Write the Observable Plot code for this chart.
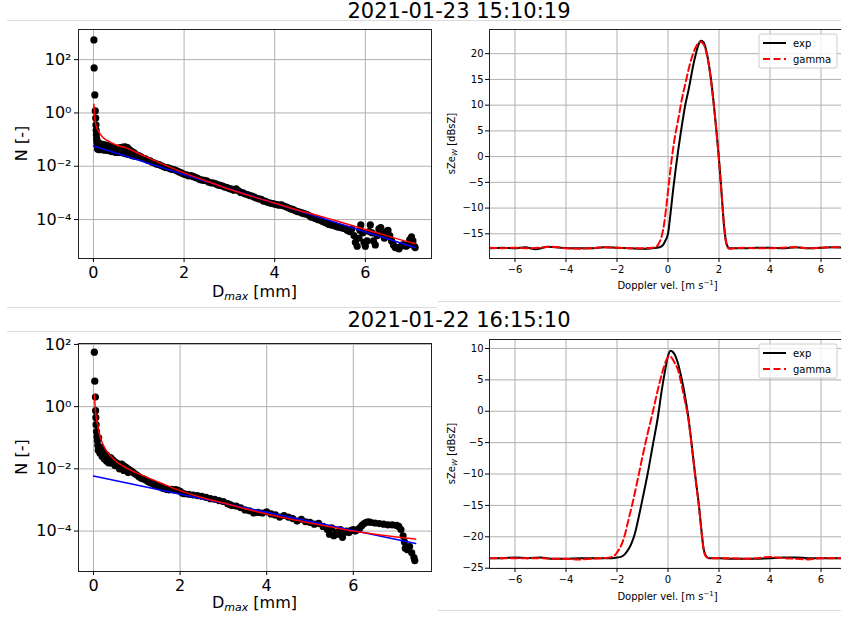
<!DOCTYPE html>
<html><head><meta charset="utf-8">
<script src="https://cdn.jsdelivr.net/npm/d3@7"></script>
<script src="https://cdn.jsdelivr.net/npm/@observablehq/plot@0.6"></script>
<style>
html,body{margin:0;padding:0;background:#fff;}
#page{position:relative;width:841px;height:617px;overflow:hidden;font-family:"DejaVu Sans",sans-serif;}
.panel{position:absolute;}
.panel svg{max-width:none !important;}
#bg{position:absolute;left:0;top:0;}
</style></head>
<body><div id="page"></div>
<script>
// ---------- titles ----------
const titles = ["2021-01-23 15:10:19", "2021-01-22 16:15:10"];

// ---------- top-left: scatter [Dmax mm, log10 N] ----------
const tlScatter = [
[0.01,2.74],[0.015,1.69],[0.03,0.675],[0.04,0.075],[0.05,-0.19],[0.055,-0.45],[0.06,-0.65],[0.065,-0.8],[0.07,-0.95],[0.075,-1.05],
[0.08,-1.15],[0.09,-1.35],[0.1,-1.2],[0.12,-1.38],[0.12,-1.12],[0.15,-1.38],[0.15,-1.18],[0.2,-1.18],[0.2,-1.38],[0.25,-1.2],
[0.25,-1.4],[0.3,-1.22],[0.3,-1.4],[0.35,-1.25],[0.35,-1.42],[0.4,-1.28],[0.4,-1.45],[0.45,-1.3],[0.45,-1.46],[0.5,-1.33],[0.5,-1.48],
[0.55,-1.32],[0.55,-1.48],[0.6,-1.3],[0.6,-1.48],[0.65,-1.28],[0.65,-1.5],[0.7,-1.27],[0.7,-1.52],[0.75,-1.3],[0.75,-1.55],
[0.8,-1.38],[0.8,-1.56],[0.85,-1.45],[0.85,-1.6],[0.9,-1.5],[0.9,-1.62],[0.95,-1.57],[1.0,-1.6],[1.05,-1.65],[1.1,-1.7],
[1.15,-1.72],[1.2,-1.78],[1.25,-1.8],[1.3,-1.85],[1.35,-1.88],[1.4,-1.92],[1.45,-1.94],[1.5,-1.98],[1.55,-2.02],[1.6,-2.05],
[1.65,-2.06],[1.7,-2.1],[1.75,-2.12],[1.8,-2.14],[1.85,-2.18],[1.9,-2.22],[1.95,-2.26],[2.0,-2.3],[2.05,-2.32],[2.1,-2.36],
[2.15,-2.35],[2.2,-2.38],[2.25,-2.42],[2.3,-2.45],[2.35,-2.5],[2.4,-2.52],[2.45,-2.53],[2.5,-2.55],[2.55,-2.6],[2.6,-2.62],
[2.65,-2.63],[2.7,-2.66],[2.75,-2.7],[2.8,-2.72],[2.85,-2.74],[2.9,-2.78],[2.95,-2.8],[3.0,-2.84],[3.05,-2.86],[3.1,-2.9],
[3.15,-2.85],[3.2,-2.92],[3.25,-2.98],[3.3,-3.0],[3.35,-3.04],[3.4,-3.06],[3.45,-3.1],[3.5,-3.12],[3.55,-3.16],[3.6,-3.2],
[3.65,-3.22],[3.7,-3.24],[3.75,-3.3],[3.8,-3.32],[3.85,-3.36],[3.9,-3.38],[3.95,-3.4],[4.0,-3.42],[4.05,-3.44],[4.1,-3.46],
[4.15,-3.45],[4.2,-3.49],[4.25,-3.52],[4.3,-3.56],[4.35,-3.6],[4.4,-3.62],[4.45,-3.66],[4.5,-3.7],[4.55,-3.72],[4.6,-3.75],
[4.65,-3.78],[4.7,-3.8],[4.75,-3.84],[4.8,-3.9],[4.85,-3.93],[4.9,-3.96],[4.95,-4.0],[5.0,-4.02],[5.05,-4.06],[5.1,-4.1],
[5.15,-4.14],[5.2,-4.18],[5.25,-4.2],[5.3,-4.22],[5.35,-4.26],[5.4,-4.28],[5.45,-4.3],[5.5,-4.32],[5.55,-4.34],[5.6,-4.4],
[5.65,-4.45],[5.7,-4.35],[5.75,-4.6],[5.78,-4.85],[5.82,-5.0],[5.86,-4.7],[5.88,-4.4],[5.9,-4.2],[5.94,-4.5],[5.97,-4.85],
[6.0,-5.0],[6.04,-4.8],[6.08,-4.45],[6.11,-4.2],[6.15,-4.5],[6.18,-4.8],[6.22,-4.95],[6.26,-4.6],[6.3,-4.35],[6.34,-4.3],
[6.38,-4.55],[6.42,-4.7],[6.46,-4.45],[6.5,-4.4],[6.54,-4.6],[6.58,-4.8],[6.62,-4.95],[6.66,-5.05],[6.7,-5.05],[6.74,-5.1],
[6.78,-5.0],[6.82,-4.95],[6.86,-4.95],[6.9,-5.0],[6.94,-4.95],[6.98,-4.75],[7.02,-4.65],[7.05,-4.8],[7.08,-5.0],[7.1,-5.05]
];
const tlRed = [[0.01,0.33],[0.03,-0.2],[0.05,-0.42],[0.08,-0.58],[0.12,-0.72],[0.2,-0.9],[0.3,-1.03],[0.5,-1.2],[0.75,-1.33],
[1.0,-1.52],[1.5,-1.9],[2.0,-2.25],[2.5,-2.56],[3.0,-2.86],[3.5,-3.13],[4.0,-3.38],[4.5,-3.64],[5.0,-3.87],[5.5,-4.12],
[6.0,-4.37],[6.5,-4.62],[7.1,-4.9]];
const tlBlue = [[0,-1.24],[7.1,-5.05]];

// ---------- bottom-left ----------
const blScatter = [
[0.02,1.75],[0.03,0.82],[0.045,0.31],[0.05,-0.13],[0.055,-0.35],[0.06,-0.58],[0.07,-0.8],[0.08,-0.96],[0.09,-1.1],[0.1,-1.25],
[0.11,-1.4],[0.12,-1.0],[0.15,-1.3],[0.15,-1.5],[0.2,-1.4],[0.2,-1.6],[0.25,-1.5],[0.25,-1.68],[0.3,-1.55],[0.3,-1.75],
[0.35,-1.62],[0.35,-1.8],[0.4,-1.65],[0.4,-1.82],[0.45,-1.72],[0.5,-1.78],[0.5,-1.9],[0.55,-1.82],[0.6,-1.86],[0.6,-2.0],
[0.65,-1.85],[0.7,-1.9],[0.7,-2.05],[0.75,-1.95],[0.8,-2.0],[0.8,-2.12],[0.85,-2.05],[0.9,-2.1],[0.95,-2.15],[1.0,-2.2],
[1.05,-2.25],[1.1,-2.3],[1.15,-2.32],[1.2,-2.35],[1.25,-2.4],[1.3,-2.44],[1.35,-2.47],[1.4,-2.5],[1.45,-2.52],[1.5,-2.56],
[1.55,-2.58],[1.6,-2.62],[1.65,-2.64],[1.7,-2.66],[1.75,-2.68],[1.8,-2.66],[1.85,-2.68],[1.9,-2.67],[1.95,-2.69],[2.0,-2.72],
[2.05,-2.78],[2.1,-2.8],[2.2,-2.82],[2.3,-2.84],[2.4,-2.86],[2.5,-2.88],[2.6,-2.92],[2.7,-2.96],[2.8,-2.98],[2.9,-3.02],
[3.0,-3.05],[3.1,-3.12],[3.15,-3.15],[3.2,-3.18],[3.3,-3.2],[3.4,-3.25],[3.5,-3.32],[3.6,-3.35],[3.7,-3.42],[3.8,-3.4],
[3.9,-3.42],[4.0,-3.38],[4.1,-3.45],[4.2,-3.48],[4.3,-3.55],[4.4,-3.5],[4.5,-3.55],[4.6,-3.6],[4.7,-3.68],[4.8,-3.62],
[4.9,-3.7],[5.0,-3.72],[5.1,-3.78],[5.2,-3.75],[5.3,-3.85],[5.4,-3.95],[5.45,-4.1],[5.5,-3.9],[5.55,-4.15],[5.6,-4.05],
[5.65,-4.1],[5.7,-3.95],[5.75,-4.2],[5.8,-4.05],[5.85,-4.0],[5.9,-4.05],[5.95,-3.98],[6.0,-3.95],[6.05,-4.0],[6.1,-3.95],
[6.15,-3.9],[6.2,-3.82],[6.25,-3.76],[6.3,-3.72],[6.35,-3.7],[6.4,-3.72],[6.5,-3.74],[6.6,-3.76],[6.7,-3.78],[6.8,-3.8],
[6.9,-3.8],[7.0,-3.82],[7.05,-3.85],[7.1,-3.95],[7.15,-4.15],[7.18,-4.35],[7.2,-4.55],[7.25,-4.6],[7.3,-4.5],[7.35,-4.7],
[7.4,-4.85],[7.42,-4.95]
];
const blRed = [[0.02,0.39],[0.05,-0.2],[0.1,-0.62],[0.15,-0.95],[0.2,-1.15],[0.3,-1.42],[0.5,-1.73],[0.8,-2.0],[1.2,-2.25],
[1.6,-2.48],[2.0,-2.7],[2.5,-2.92],[3.0,-3.1],[3.5,-3.28],[4.0,-3.45],[4.5,-3.6],[5.0,-3.74],[5.5,-3.87],[6.0,-4.0],
[6.5,-4.1],[7.0,-4.19],[7.44,-4.26]];
const blBlue = [[0,-2.23],[7.44,-4.4]];

// ---------- top-right: Doppler spectra [vel, dBsZ] ----------
const trExp = [[-7,-17.8],[-6.5,-17.7],[-6,-17.8],[-5.6,-17.6],[-5.2,-18.0],[-4.7,-17.5],[-4.2,-17.7],[-3.5,-17.8],[-3,-17.8],
[-2.5,-17.6],[-2,-17.7],[-1.5,-17.8],[-1,-17.9],[-0.6,-17.8],[-0.33,-17.6],[-0.2,-17.2],[-0.1,-16.3],[0,-15.0],[0.1,-11.0],
[0.2,-6.5],[0.3,-2.5],[0.4,1.2],[0.5,4.6],[0.6,7.8],[0.7,10.6],[0.8,12.8],[0.9,15.4],[1.0,18.0],[1.1,20.1],[1.2,21.8],
[1.3,22.5],[1.4,22.2],[1.5,20.6],[1.6,18.0],[1.7,14.5],[1.8,10.0],[1.9,5.0],[2.0,-0.5],[2.1,-7.0],[2.2,-13.5],[2.3,-17.0],
[2.4,-17.8],[2.6,-17.8],[3,-17.8],[3.5,-17.7],[4,-17.7],[4.5,-17.8],[5,-17.6],[5.5,-17.8],[6,-17.7],[6.5,-17.6],[7,-17.7]];
const trGamma = [[-7,-17.7],[-6.5,-17.8],[-6,-17.7],[-5.5,-17.8],[-5,-17.7],[-4.6,-17.5],[-4,-17.8],[-3.5,-17.9],[-3,-17.8],
[-2.5,-17.6],[-2,-17.7],[-1.5,-17.8],[-1,-17.8],[-0.6,-17.7],[-0.46,-17.5],[-0.35,-16.8],[-0.25,-15.5],[-0.15,-13.0],
[-0.05,-9.0],[0.05,-4.5],[0.15,-0.3],[0.25,3.2],[0.4,7.2],[0.55,11.3],[0.7,14.6],[0.85,17.8],[1.0,20.2],[1.15,21.8],
[1.27,22.3],[1.4,21.8],[1.5,20.3],[1.6,17.8],[1.7,14.2],[1.8,9.8],[1.9,4.8],[2.0,-0.8],[2.1,-7.2],[2.2,-13.6],[2.3,-17.2],
[2.4,-17.9],[2.6,-17.8],[3,-17.7],[3.5,-17.8],[4,-17.8],[4.5,-17.7],[5,-17.6],[5.5,-17.8],[6,-17.7],[6.5,-17.6],[7,-17.7]];

// ---------- bottom-right ----------
const brExp = [[-7,-23.4],[-6.5,-23.4],[-6,-23.3],[-5.5,-23.4],[-5,-23.3],[-4.5,-23.5],[-4,-23.5],[-3.5,-23.4],[-3,-23.4],
[-2.5,-23.4],[-2.2,-23.4],[-2.0,-23.3],[-1.85,-23.2],[-1.7,-22.8],[-1.55,-22.0],[-1.45,-21.2],[-1.3,-19.5],[-1.2,-17.8],
[-1.0,-14.0],[-0.8,-10.0],[-0.6,-5.5],[-0.4,-1.0],[-0.25,3.2],[-0.1,6.8],[0.0,8.8],[0.1,9.65],[0.2,9.4],[0.3,8.7],[0.4,7.5],
[0.5,5.8],[0.6,3.9],[0.7,1.6],[0.8,-1.0],[0.9,-4.3],[1.0,-7.8],[1.1,-11.3],[1.2,-14.5],[1.3,-18.5],[1.4,-22.0],[1.5,-23.1],
[1.6,-23.4],[2,-23.4],[2.5,-23.5],[3,-23.5],[3.5,-23.5],[4,-23.4],[4.5,-23.3],[5,-23.3],[5.5,-23.4],[6,-23.4],[6.5,-23.4],[7,-23.4]];
const brGamma = [[-7,-23.4],[-6,-23.4],[-5,-23.4],[-4.5,-23.5],[-4,-23.5],[-3.5,-23.6],[-3,-23.5],[-2.5,-23.4],[-2.2,-23.2],
[-2.1,-23.0],[-2.0,-22.5],[-1.85,-21.5],[-1.7,-19.8],[-1.58,-17.8],[-1.4,-14.8],[-1.19,-10.9],[-1.0,-7.2],[-0.79,-3.4],
[-0.6,-0.2],[-0.4,3.4],[-0.2,6.5],[-0.05,8.3],[0.05,8.8],[0.15,8.5],[0.25,7.8],[0.39,6.6],[0.5,4.8],[0.65,1.9],[0.8,-1.3],
[0.9,-4.5],[1.0,-8.0],[1.1,-11.5],[1.2,-14.7],[1.3,-18.7],[1.4,-22.1],[1.5,-23.2],[1.6,-23.4],[2,-23.4],[2.5,-23.4],[3,-23.5],
[3.5,-23.4],[4,-23.2],[4.5,-23.4],[5,-23.5],[5.5,-23.6],[6,-23.4],[6.5,-23.4],[7,-23.4]];

// ---------- ticks ----------
const leftXTicks = [0, 2, 4, 6];
const tlYTicks = [1e-4, 1e-2, 1, 1e2];
const blYTicks = [1e-4, 1e-2, 1, 1e2];
const rightXTicks = [-6, -4, -2, 0, 2, 4, 6];
const trYTicks = [-15, -10, -5, 0, 5, 10, 15, 20];
const brYTicks = [-25, -20, -15, -10, -5, 0, 5, 10];
const legendLabels = ["exp", "gamma"];

const FONT = "DejaVu Sans";
const page = d3.select("#page");

// background: separators and titles
const bg = page.append("svg").attr("id","bg").attr("width",841).attr("height",617);
const sepColor = "#dcdcdc";
[[7,841,20.5],[7,437,307.5],[438,841,301.5],[7,841,331.5],[438,841,610.5]].forEach(([x1,x2,y])=>{
  bg.append("line").attr("x1",x1).attr("x2",x2).attr("y1",y).attr("y2",y).attr("stroke",sepColor).attr("stroke-width",1);
});
bg.append("text").attr("x",459).attr("y",18).attr("text-anchor","middle").attr("font-family",FONT).attr("font-size",21).text(titles[0]);
bg.append("text").attr("x",459).attr("y",327).attr("text-anchor","middle").attr("font-family",FONT).attr("font-size",21).text(titles[1]);

const supMap = {"-":"⁻","0":"⁰","1":"¹","2":"²","3":"³","4":"⁴","5":"⁵","6":"⁶","7":"⁷","8":"⁸","9":"⁹"};
const supFmt = d => "10" + [...String(Math.round(Math.log10(d)))].map(c => supMap[c]).join("");
const toN = arr => arr.map(([D, e]) => ({D, N: 10 ** e}));
const toV = arr => arr.map(([v, z]) => ({v, z}));

function leftPanel(o) {
  const svg = Plot.plot({
    width: o.w, height: o.h, marginLeft: 78, marginRight: o.w - 431, marginTop: o.mt, marginBottom: o.mb,
    style: {fontFamily: FONT, fontSize: "16px", background: "transparent", color: "#000", overflow: "visible", maxWidth: "none"},
    x: {domain: o.xDomain},
    y: {type: "log", domain: o.yDomain},
    marks: [
      Plot.gridX(leftXTicks, {stroke: "#b0b0b0", strokeOpacity: 1, strokeWidth: 1}),
      Plot.gridY(o.yTicks, {stroke: "#b0b0b0", strokeOpacity: 1, strokeWidth: 1}),
      Plot.dot(toN(o.scatter), {x: "D", y: "N", r: 3.6, fill: "#000", clip: true}),
      Plot.line(toN(o.blue), {x: "D", y: "N", stroke: "#0000ff", strokeWidth: 1.5, clip: true}),
      Plot.line(toN(o.red), {x: "D", y: "N", stroke: "#ff0000", strokeWidth: 1.5, curve: "monotone-x", clip: true}),
      Plot.frame({stroke: "#222", strokeWidth: 1}),
      Plot.axisX(leftXTicks, {tickSize: 4, tickPadding: 4, label: null, tickFormat: d => String(d)}),
      Plot.axisY(o.yTicks, {tickSize: 4, tickPadding: 3, label: null, tickFormat: supFmt})
    ]
  });
  const s = d3.select(svg);
  const xl = s.append("text").attr("x", 254.5).attr("y", o.xLabelY).attr("text-anchor", "middle")
    .attr("font-family", FONT).attr("font-size", 16).attr("fill", "#000");
  xl.append("tspan").text("D");
  xl.append("tspan").attr("font-size", 11).attr("font-style", "italic").attr("dy", 3).text("max");
  xl.append("tspan").attr("dy", -3).text(" [mm]");
  s.append("text").attr("transform", `translate(27,${o.yLabelY}) rotate(-90)`).attr("text-anchor", "middle")
    .attr("font-family", FONT).attr("font-size", 16).attr("fill", "#000").text("N [-]");
  const div = page.append("div").attr("class", "panel").style("left", o.left + "px").style("top", o.top + "px")
    .style("width", o.w + "px").style("height", o.h + "px");
  div.node().appendChild(svg);
}

function rightPanel(o) {
  const svg = Plot.plot({
    width: 430, height: o.h, marginLeft: 59, marginRight: 14, marginTop: o.mt, marginBottom: o.mb,
    style: {fontFamily: FONT, fontSize: "10px", background: "transparent", color: "#000", overflow: "visible", maxWidth: "none"},
    x: {domain: [-7, 7]},
    y: {domain: o.yDomain},
    marks: [
      Plot.gridX(rightXTicks, {stroke: "#b0b0b0", strokeOpacity: 1, strokeWidth: 1}),
      Plot.gridY(o.yTicks, {stroke: "#b0b0b0", strokeOpacity: 1, strokeWidth: 1}),
      Plot.line(toV(o.exp), {x: "v", y: "z", stroke: "#000", strokeWidth: 2, curve: "monotone-x", clip: true}),
      Plot.line(toV(o.gamma), {x: "v", y: "z", stroke: "#ff0000", strokeWidth: 2, strokeDasharray: "7,3.5", curve: "monotone-x", clip: true}),
      Plot.frame({stroke: "#222", strokeWidth: 1}),
      Plot.axisX(rightXTicks, {tickSize: 4, tickPadding: 3, label: null}),
      Plot.axisY(o.yTicks, {tickSize: 4, tickPadding: 2, label: null})
    ]
  });
  const s = d3.select(svg);
  const xl = s.append("text").attr("x", 237.5).attr("y", o.xLabelY).attr("text-anchor", "middle")
    .attr("font-family", FONT).attr("font-size", 10).attr("fill", "#000");
  xl.append("tspan").text("Doppler vel. [m s");
  xl.append("tspan").attr("font-size", 7).attr("dy", -4).text("−1");
  xl.append("tspan").attr("dy", 4).text("]");
  const yl = s.append("text").attr("transform", `translate(25,${o.yLabelY}) rotate(-90)`).attr("text-anchor", "middle")
    .attr("font-family", FONT).attr("font-size", 10).attr("fill", "#000");
  yl.append("tspan").text("sZe");
  yl.append("tspan").attr("font-size", 7).attr("font-style", "italic").attr("dy", 2).text("W");
  yl.append("tspan").attr("dy", -2).text(" [dBsZ]");
  // legend
  const g = s.append("g").attr("transform", `translate(329,${o.legY})`).attr("text-anchor", "start");
  g.append("rect").attr("width", 78).attr("height", 34).attr("rx", 2).attr("fill", "#fff").attr("fill-opacity", 0.8).attr("stroke", "#cccccc");
  g.append("line").attr("x1", 4).attr("x2", 27).attr("y1", 9).attr("y2", 9).attr("stroke", "#000").attr("stroke-width", 2);
  g.append("line").attr("x1", 4).attr("x2", 27).attr("y1", 25).attr("y2", 25).attr("stroke", "#ff0000").attr("stroke-width", 2).attr("stroke-dasharray", "7,3.5");
  g.append("text").attr("x", 34).attr("y", 12.5).attr("text-anchor", "start").attr("font-family", FONT).attr("font-size", 10).text(legendLabels[0]);
  g.append("text").attr("x", 34).attr("y", 28.5).attr("text-anchor", "start").attr("font-family", FONT).attr("font-size", 10).text(legendLabels[1]);
  const div = page.append("div").attr("class", "panel").style("left", "430px").style("top", o.top + "px")
    .style("width", "430px").style("height", o.h + "px");
  div.node().appendChild(svg);
}

leftPanel({left: 0, top: 22, w: 440, h: 283, mt: 7, mb: 47, xDomain: [-0.33, 7.46], yDomain: [10 ** -5.46, 10 ** 3.13],
  yTicks: tlYTicks, scatter: tlScatter, red: tlRed, blue: tlBlue, xLabelY: 275, yLabelY: 121.5});
leftPanel({left: 0, top: 333, w: 440, h: 277, mt: 10, mb: 39, xDomain: [-0.346, 7.806], yDomain: [10 ** -5.3, 10 ** 2.03],
  yTicks: blYTicks, scatter: blScatter, red: blRed, blue: blBlue, xLabelY: 275, yLabelY: 124});
rightPanel({top: 22, h: 278, mt: 7, mb: 42, yDomain: [-19.8, 24.7], yTicks: trYTicks, exp: trExp, gamma: trGamma,
  xLabelY: 267, yLabelY: 121.5, legY: 12});
rightPanel({top: 333, h: 275, mt: 6, mb: 40, yDomain: [-25.05, 11.43], yTicks: brYTicks, exp: brExp, gamma: brGamma,
  xLabelY: 267, yLabelY: 120.5, legY: 11});
</script>
</body></html>
